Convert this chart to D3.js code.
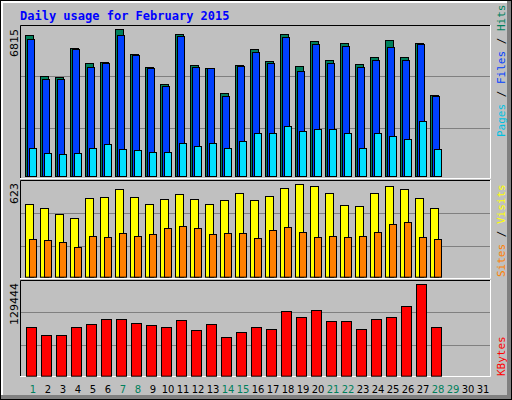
<!DOCTYPE html>
<html><head><meta charset="utf-8">
<script src="https://cdn.jsdelivr.net/npm/d3@7/dist/d3.min.js"></script>
<style>body{margin:0;background:#fff}</style></head>
<body><svg id="c" width="512" height="400"></svg>
<script>
const days = d3.range(1,32);
const weekendDays = [1,7,8,14,15,21,22,28,29];
const hits  = [6569,4668,4576,5966,5271,5317,6815,5688,5086,4251,6616,5178,5039,3834,5178,5920,5331,6616,5132,6291,5410,6198,5225,5549,6337,5549,6198,3741];
const files = [6384,4483,4483,5920,5086,5271,6569,5642,5039,4159,6523,5086,5039,3695,5132,5781,5271,6477,4900,6152,5271,6059,5086,5410,6013,5410,6152,3695];
const pages = [1284,1052,1006,1052,1284,1470,1238,1191,1099,1099,1516,1377,1516,1284,1609,1980,1980,2304,2072,2165,2165,1980,1284,1980,1840,1701,2536,1238];
const visits= [488,461,421,394,529,535,589,535,488,522,556,522,488,515,562,515,542,596,623,610,562,481,475,562,610,589,529,461];
const sites = [252,245,232,198,272,265,292,272,286,326,340,326,286,292,292,259,313,333,299,265,272,265,272,299,353,367,265,252];
const kbytes= [68498,57160,57160,68498,72750,79836,79836,74167,71332,68498,78419,64246,72750,54326,61412,68498,65664,91173,82670,92590,77001,77001,65664,79836,82670,98259,129444,68498];

const svg = d3.select("#c");
// frame
svg.append("rect").attr("x",0).attr("y",0).attr("width",512).attr("height",400).attr("fill","#000");
svg.append("rect").attr("x",1).attr("y",1).attr("width",510).attr("height",398).attr("fill","#808080");
svg.append("rect").attr("x",1).attr("y",1).attr("width",506).attr("height",394).attr("fill","#fff");
svg.append("rect").attr("x",3).attr("y",3).attr("width",504).attr("height",392).attr("fill","#C0C0C0");
svg.append("text").attr("x",20).attr("y",20).text("Daily usage for February 2015")
  .attr("font-family","DejaVu Sans Mono").attr("font-weight","bold").attr("font-size",12).attr("fill","#0000FF");

const x = d3.scaleLinear().domain([1,32]).range([25,490]);
const panels = [{t:25,b:179},{t:180,b:279},{t:280,b:377}];
panels.forEach(p=>{
  svg.append("rect").attr("x",20).attr("y",p.t).attr("width",471).attr("height",p.b-p.t).attr("fill","#C0C0C0");
  const h=(p.b-p.t);
  [1,2].forEach(k=>{
    const yy=Math.round(p.t+h*k/3)+0.5;
    svg.append("line").attr("x1",21).attr("x2",490).attr("y1",yy).attr("y2",yy).attr("stroke","#808080");
  });
  svg.append("path").attr("d",`M20.5,${p.b}V${p.t+0.5}H490.5`).attr("stroke","#000").attr("fill","none");
  svg.append("path").attr("d",`M490.5,${p.t}V${p.b-0.5}H20`).attr("stroke","#fff").attr("fill","none");
});

function bars(data,y,dx,w,color){
  svg.append("g").selectAll("rect").data(data).join("rect")
    .attr("x",(d,i)=>x(i+1)+dx+0.5).attr("y",d=>Math.round(y(d))+0.5)
    .attr("width",w).attr("height",d=>y(0)-Math.round(y(d)))
    .attr("fill",color).attr("stroke","#000");
}
const y1 = d3.scaleLinear().domain([0,6815]).range([176,29.3]);
bars(hits,y1,0,8,"#00805C");
bars(files,y1,2,7,"#0040FF");
bars(pages,y1,4,7,"#00E0FF");
const y2 = d3.scaleLinear().domain([0,623]).range([276.7,184.3]);
bars(visits,y2,0,8,"#FFFF00");
bars(sites,y2,4,7,"#FF8000");
const y3 = d3.scaleLinear().domain([0,129444]).range([375.7,284.3]);
bars(kbytes,y3,1,10,"#FF0000");

function vtext(txt,xx,yy,anchor,color){
  return svg.append("text").attr("transform",`translate(${xx},${yy}) rotate(-90)`).attr("text-anchor",anchor)
   .attr("font-family","DejaVu Sans").attr("font-size",11).attr("fill",color).text(txt);
}
vtext("6815",18,29,"end","#000");
vtext("623",18,183,"end","#000");
vtext("129444",18,283,"end","#000");
function vmulti(parts,xx,yy){
  const t=svg.append("text").attr("transform",`translate(${xx},${yy}) rotate(-90)`).attr("text-anchor","start")
   .attr("font-family","DejaVu Sans Mono").attr("font-size",11);
  parts.forEach(p=>t.append("tspan").attr("fill",p[1]).text(p[0]));
}
vmulti([["Pages","#00C0E0"],[" / ","#000"],["Files","#0040FF"],[" / ","#000"],["Hits","#00805C"]],505,137);
vmulti([["Sites","#FF8000"],[" / ","#000"],["Visits","#FFFF00"]],505,277);
vmulti([["KBytes","#FF0000"]],505,376);

svg.append("g").selectAll("text").data(days).join("text")
  .attr("x",d=>x(d)+8).attr("y",393).attr("text-anchor","middle")
  .attr("font-family","DejaVu Sans").attr("font-size",10)
  .attr("fill",d=>weekendDays.includes(d)?"#00805C":"#000").text(d=>d);
</script></body></html>
